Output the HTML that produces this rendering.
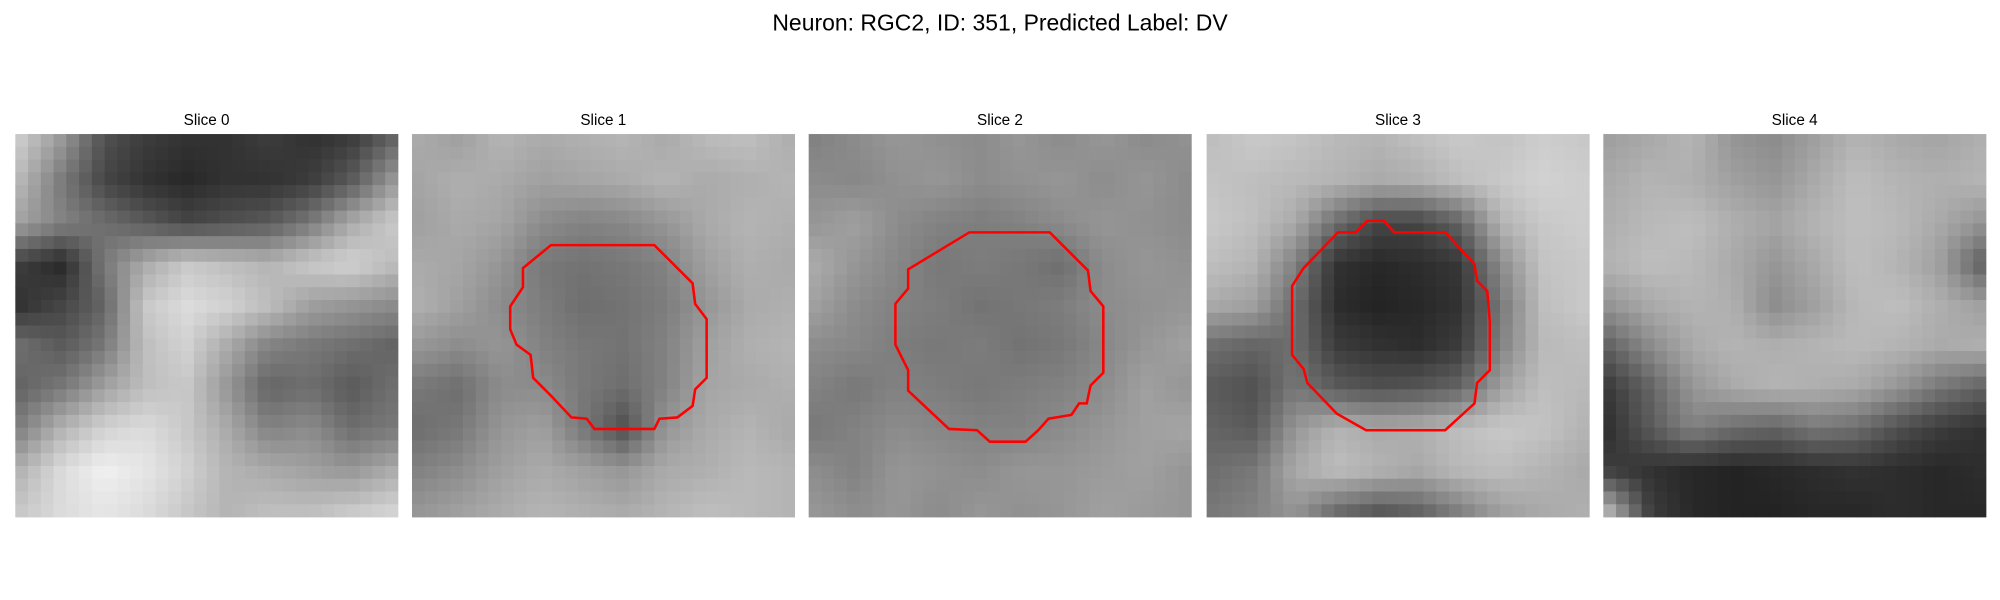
<!DOCTYPE html>
<html><head><meta charset="utf-8"><style>
html,body{margin:0;padding:0;background:#fff;}
svg{display:block;}
text{font-family:"Liberation Sans","DejaVu Sans",sans-serif;fill:#000;}
</style></head><body>
<svg id="fig" width="2000" height="600" viewBox="0 0 1568 470" preserveAspectRatio="none" xmlns="http://www.w3.org/2000/svg">
<rect width="1568" height="470" fill="#fff"/>
<text x="784" y="24" text-anchor="middle" font-size="18">Neuron: RGC2, ID: 351, Predicted Label: DV</text>
<g id="panels"></g>
</svg>
<script>
const sliceTitles=["Slice 0","Slice 1","Slice 2","Slice 3","Slice 4"];
const panelX=[12,323,634,946,1257];
const map0=[[200,150,80,60,50,50,60,50,60,100],[180,120,70,50,40,50,50,60,90,150],[160,130,110,90,70,80,90,120,170,200],[60,40,120,170,200,190,180,200,210,190],[50,70,100,200,220,210,190,160,150,140],[110,90,120,190,210,170,130,120,110,100],[100,120,160,190,200,150,100,110,90,110],[130,180,210,220,200,170,130,140,110,120],[180,220,240,230,210,180,170,160,150,170],[200,220,230,220,200,180,190,190,200,210]];
const map1=[[170,160,180,170,175,180,170,185,190,175],[165,175,170,160,165,170,180,170,175,180],[160,170,165,140,130,135,150,170,180,175],[170,165,150,120,115,120,130,160,175,170],[175,160,140,125,110,115,125,150,170,175],[150,140,150,130,120,115,130,160,175,180],[120,110,140,140,120,110,130,165,170,175],[110,120,150,160,120,80,150,170,180,170],[130,140,160,170,160,150,170,175,185,180],[150,160,170,180,175,170,180,190,185,180]];
const map2=[[130,140,150,145,140,150,140,150,140,145],[140,135,145,150,140,145,150,140,150,140],[150,160,140,130,125,130,140,150,145,140],[170,150,135,120,125,120,110,140,150,145],[160,140,130,125,115,120,125,140,145,150],[140,135,125,120,125,115,120,135,150,160],[130,120,130,125,120,125,130,140,160,150],[120,130,140,135,130,130,140,150,160,165],[140,130,150,145,140,150,150,155,160,150],[150,140,150,140,150,145,150,160,155,150]];
const map3=[[190,200,195,185,180,190,200,195,205,200],[195,190,185,180,170,175,190,200,210,205],[200,190,170,110,70,70,100,180,200,205],[190,180,130,50,40,45,55,140,195,200],[170,160,110,45,35,40,50,120,190,200],[110,100,110,60,50,45,60,130,185,190],[90,80,120,90,80,85,100,160,190,185],[100,90,150,180,170,175,190,200,195,180],[110,120,170,190,180,170,185,190,180,170],[120,130,150,110,90,100,130,160,170,175]];
const map4=[[160,170,180,150,140,160,180,170,165,175],[170,180,175,160,150,170,190,180,175,180],[175,185,190,175,165,180,190,185,170,150],[180,190,185,170,150,170,190,180,160,100],[150,170,180,175,140,160,185,190,175,160],[100,140,170,180,175,180,185,180,170,175],[60,100,150,170,180,175,170,150,120,100],[50,90,130,110,100,120,110,80,60,50],[60,50,40,35,40,45,50,45,40,45],[170,60,40,35,35,40,40,45,40,40]];
const maps=[map0,map1,map2,map3,map4];
const contour1=[[432,192],[513,192],[543,222],[545,238],[554,250],[554,296],[545,305],[543,318],[531,327],[517,328],[513,336],[466,336],[460,328],[448,327],[432,310],[418,296],[416,278],[405,270],[400,258],[400,240],[410,225],[410,210]];
const contour2=[[760,182],[823,182],[853,212],[855,228],[865,240],[865,292],[855,302],[852,316],[846,316],[840,325],[822,328],[814,337],[804,346],[776,346],[766,337],[744,336],[712,306],[712,290],[702,270],[702,238],[712,226],[712,211]];
const contour3=[[1072,173],[1085,173],[1093,182],[1133,182],[1156,207],[1158,220],[1166,228],[1168,252],[1168,290],[1158,300],[1156,316],[1133,337],[1071,337],[1048,324],[1025,300],[1022,289],[1013,278],[1013,224],[1022,210],[1049,182],[1063,182]];
const contours=[null,contour1,contour2,contour3,null];

const NS="http://www.w3.org/2000/svg";
const panelsG=document.getElementById('panels');
const topY=105,size=300,N=30;
function sample(m,u,v){
  const i0=Math.floor(v),j0=Math.floor(u),i1=Math.min(9,i0+1),j1=Math.min(9,j0+1);
  const fy=v-i0,fx=u-j0;
  return m[i0][j0]*(1-fx)*(1-fy)+m[i0][j1]*fx*(1-fy)+m[i1][j0]*(1-fx)*fy+m[i1][j1]*fx*fy;
}
sliceTitles.forEach((t,p)=>{
  const pg=document.createElementNS(NS,'g');
  
  
  const x0=panelX[p],c=size/N;
  for(let r=0;r<N;r++)for(let k=0;k<N;k++){
    const val=Math.round(sample(maps[p],k*9/(N-1),r*9/(N-1)));
    const rc=document.createElementNS(NS,'rect');
    rc.setAttribute('x',x0+k*c);rc.setAttribute('y',topY+r*c);
    rc.setAttribute('width',c+0.3);rc.setAttribute('height',c+0.3);
    rc.setAttribute('fill',`rgb(${val},${val},${val})`);
    pg.appendChild(rc);
  }
  const tx=document.createElementNS(NS,'text');
  
  
  tx.setAttribute('x',x0+size/2);tx.setAttribute('y',98);
  tx.setAttribute('text-anchor','middle');tx.setAttribute('font-size','12');
  tx.textContent=t;pg.appendChild(tx);
  if(contours[p]){
    const pl=document.createElementNS(NS,'polygon');
    
    
    pl.setAttribute('points',contours[p].map(q=>q.join(',')).join(' '));
    pl.setAttribute('fill','none');pl.setAttribute('stroke','#f00');pl.setAttribute('stroke-width','2');
    pg.appendChild(pl);
  }
  panelsG.appendChild(pg);
});
</script>
</body></html>
